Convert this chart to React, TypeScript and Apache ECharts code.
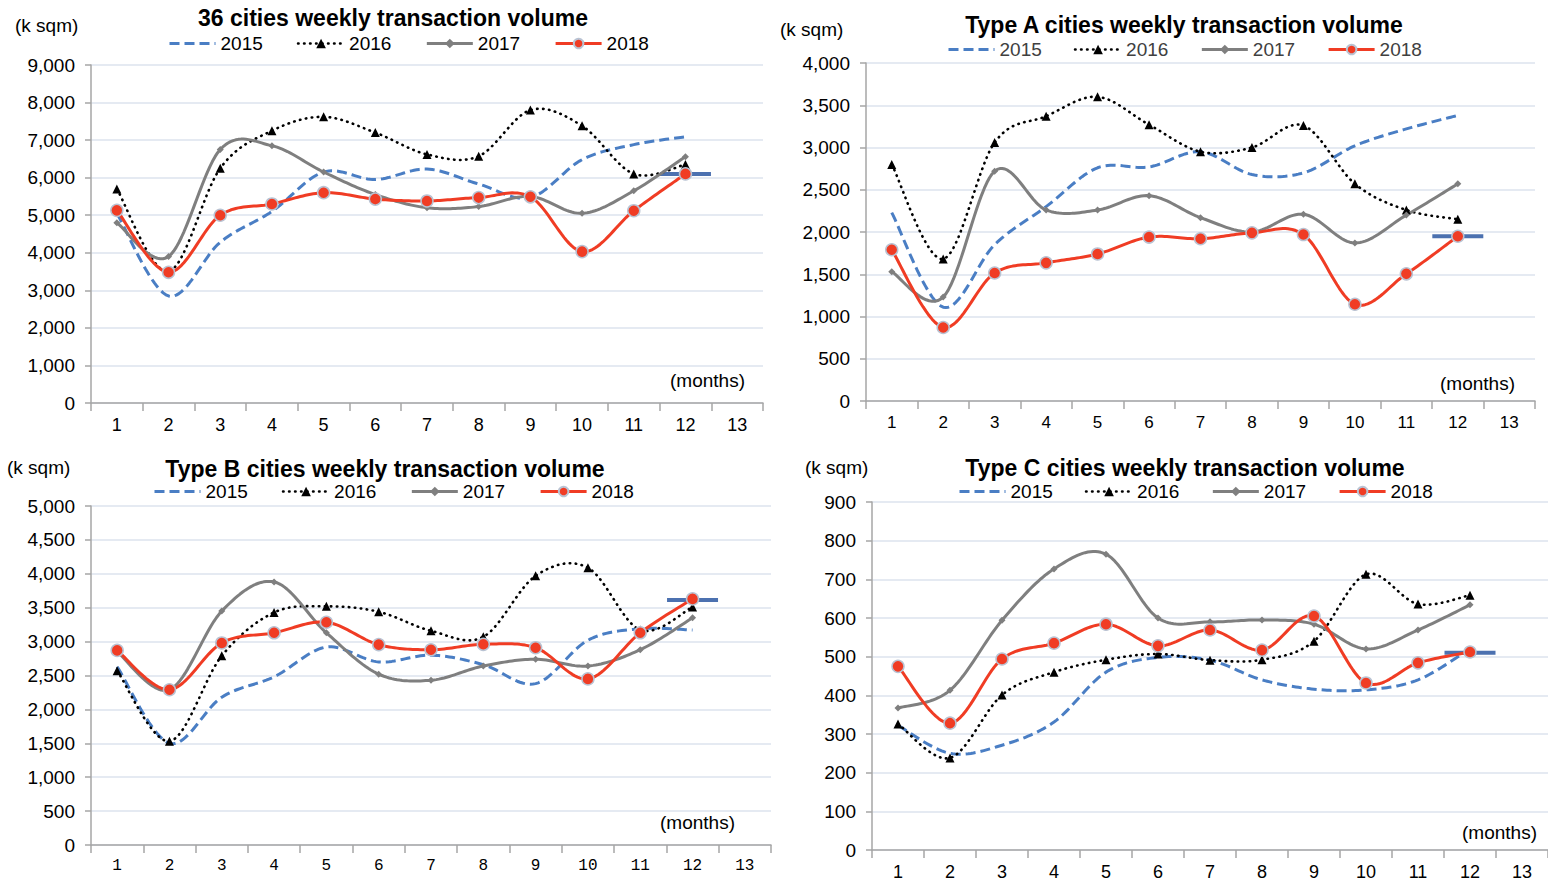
import React, { useEffect, useRef } from 'react';
import * as echarts from 'echarts';

const months = ['1', '2', '3', '4', '5', '6', '7', '8', '9', '10', '11', '12', '13'];
const years = ['2015', '2016', '2017', '2018'];

// 36 cities (k sqm)
const c36_2015 = [5050, 2850, 4280, 5100, 6150, 5950, 6230, 5830, 5470, 6480, 6880, 7090];
const c36_2016 = [5700, 3500, 6250, 7250, 7620, 7200, 6620, 6570, 7800, 7380, 6100, 6350];
const c36_2017 = [4800, 3900, 6750, 6850, 6150, 5550, 5200, 5230, 5500, 5050, 5650, 6560];
const c36_2018 = [5130, 3480, 5000, 5300, 5600, 5430, 5380, 5470, 5490, 4030, 5120, 6100];
const c36_mark = 6100;

// Type A cities
const ta_2015 = [2230, 1110, 1850, 2300, 2760, 2770, 2950, 2680, 2700, 3020, 3220, 3380];
const ta_2016 = [2800, 1680, 3060, 3370, 3600, 3270, 2950, 3000, 3260, 2570, 2260, 2150];
const ta_2017 = [1530, 1230, 2720, 2260, 2260, 2430, 2170, 2000, 2210, 1870, 2200, 2570];
const ta_2018 = [1790, 870, 1515, 1635, 1740, 1940, 1920, 1990, 1970, 1145, 1505, 1950];
const ta_mark = 1950;

// Type B cities
const tb_2015 = [2630, 1500, 2180, 2480, 2920, 2700, 2800, 2660, 2380, 3020, 3190, 3170];
const tb_2016 = [2570, 1530, 2790, 3430, 3520, 3440, 3160, 3070, 3970, 4090, 3170, 3510];
const tb_2017 = [2850, 2290, 3450, 3880, 3130, 2520, 2430, 2640, 2740, 2640, 2880, 3350];
const tb_2018 = [2870, 2290, 2980, 3130, 3285, 2955, 2880, 2960, 2910, 2450, 3130, 3630];
const tb_mark = 3615;

// Type C cities
const tc_2015 = [322, 250, 271, 331, 460, 498, 491, 440, 416, 414, 440, 520];
const tc_2016 = [326, 238, 401, 460, 492, 507, 491, 492, 540, 713, 636, 659];
const tc_2017 = [367, 413, 594, 727, 765, 600, 590, 595, 584, 520, 569, 634];
const tc_2018 = [475, 328, 494, 535, 584, 528, 569, 517, 605, 432, 484, 512];
const tc_mark = 510;

const FONT = '"Liberation Sans", Arial, sans-serif';

const panels = [
  {
    title: '36 cities weekly transaction volume',
    data: [c36_2015, c36_2016, c36_2017, c36_2018],
    mark: c36_mark,
    max: 9000, interval: 1000,
    grid: { left: 91, top: 65, width: 672, height: 338 },
    titlePos: [393, 18],
    legendPos: [168, 34], legendGap: 34, legendColor: '#000',
    unitPos: [15, 25], monthsPos: [670, 380],
    xFont: FONT, xSize: 18,
  },
  {
    title: 'Type A cities weekly transaction volume',
    data: [ta_2015, ta_2016, ta_2017, ta_2018],
    mark: ta_mark,
    max: 4000, interval: 500,
    grid: { left: 866, top: 63, width: 669, height: 338 },
    titlePos: [1184, 25],
    legendPos: [947, 40], legendGap: 32, legendColor: '#404040',
    unitPos: [780, 29], monthsPos: [1440, 383],
    xFont: FONT, xSize: 17,
  },
  {
    title: 'Type B cities weekly transaction volume',
    data: [tb_2015, tb_2016, tb_2017, tb_2018],
    mark: tb_mark,
    max: 5000, interval: 500,
    grid: { left: 91, top: 506, width: 680, height: 339 },
    titlePos: [385, 469],
    legendPos: [153, 482], legendGap: 34, legendColor: '#000',
    unitPos: [7, 467], monthsPos: [660, 822],
    xFont: '"Liberation Mono", monospace', xSize: 16,
  },
  {
    title: 'Type C cities weekly transaction volume',
    data: [tc_2015, tc_2016, tc_2017, tc_2018],
    mark: tc_mark,
    max: 900, interval: 100,
    grid: { left: 872, top: 502, width: 685, height: 348 },
    titlePos: [1185, 468],
    legendPos: [958, 482], legendGap: 32, legendColor: '#000',
    unitPos: [805, 467], monthsPos: [1462, 832],
    xFont: FONT, xSize: 18,
  },
];

const yearStyle: any = {
  '2015': { color: '#4A7EC4', width: 3, dash: [10, 5], cap: 'butt', symbol: 'none', symbolSize: 0 },
  '2016': { color: '#000000', width: 2.6, dash: [0.5, 5.5], cap: 'round', symbol: 'triangle', symbolSize: 9 },
  '2017': { color: '#7F7F7F', width: 3, dash: null, cap: 'butt', symbol: 'diamond', symbolSize: 7 },
  '2018': { color: '#F03C24', width: 3, dash: null, cap: 'butt', symbol: 'circle', symbolSize: 12 },
};

// Excel-like smoothed curve (uniform Catmull-Rom as cubic Bezier), drawn from axis coordinates
function curveRenderer(values: number[], st: any) {
  return (params: any, api: any) => {
    if (params.dataIndex !== 0) return null;
    const pts = values.map((v, idx) => api.coord([idx, v]));
    const out: number[][] = [];
    const N = 20;
    for (let k = 0; k < pts.length - 1; k++) {
      const p0 = pts[k - 1] || pts[k];
      const p1 = pts[k];
      const p2 = pts[k + 1];
      const p3 = pts[k + 2] || pts[k + 1];
      const c1 = [p1[0] + (p2[0] - p0[0]) / 6, p1[1] + (p2[1] - p0[1]) / 6];
      const c2 = [p2[0] - (p3[0] - p1[0]) / 6, p2[1] - (p3[1] - p1[1]) / 6];
      for (let s = 0; s < N; s++) {
        const t = s / N;
        const u = 1 - t;
        const a = u * u * u, b = 3 * u * u * t, c = 3 * u * t * t, d = t * t * t;
        out.push([
          a * p1[0] + b * c1[0] + c * c2[0] + d * p2[0],
          a * p1[1] + b * c1[1] + c * c2[1] + d * p2[1],
        ]);
      }
    }
    out.push(pts[pts.length - 1]);
    return {
      type: 'polyline',
      shape: { points: out },
      style: {
        stroke: st.color, lineWidth: st.width, fill: 'none',
        lineDash: st.dash || undefined, lineCap: st.cap, lineJoin: 'round',
      },
    };
  };
}

function buildOption() {
  const grid: any[] = [];
  const xAxis: any[] = [];
  const yAxis: any[] = [];
  const series: any[] = [];
  const legend: any[] = [];
  const graphic: any[] = [];

  panels.forEach((p, i) => {
    grid.push({ ...p.grid, containLabel: false });
    xAxis.push({
      type: 'category', gridIndex: i, data: months, boundaryGap: true,
      axisLine: { lineStyle: { color: '#A6A6A6', width: 1.5 } },
      axisTick: { show: true, length: 8, alignWithLabel: false, lineStyle: { color: '#A6A6A6', width: 1.5 } },
      axisLabel: { interval: 0, color: '#000', fontSize: p.xSize, fontFamily: p.xFont, margin: 13 },
      splitLine: { show: false },
    });
    yAxis.push({
      type: 'value', gridIndex: i, min: 0, max: p.max, interval: p.interval,
      axisLine: { show: true, lineStyle: { color: '#A6A6A6', width: 1.5 } },
      axisTick: { show: true, length: 6, lineStyle: { color: '#A6A6A6', width: 1.5 } },
      axisLabel: {
        color: '#000', fontSize: 19, fontFamily: FONT, margin: 16,
        formatter: (v: number) => v.toLocaleString('en-US'),
      },
      splitLine: { lineStyle: { color: '#DCE3EE', width: 1.5 } },
    });
    series.push({
      type: 'scatter', name: 'marker', xAxisIndex: i, yAxisIndex: i,
      data: [[11, p.mark]], symbol: 'rect', symbolSize: [51, 4],
      itemStyle: { color: '#1F4E9C' }, z: 1, silent: true,
    });
    years.forEach((y, k) => {
      const st = yearStyle[y];
      const vals = p.data[k];
      // markers (legend source); its own line is hidden, the curve is drawn by the custom series
      series.push({
        type: 'line', name: y, xAxisIndex: i, yAxisIndex: i,
        data: vals,
        symbol: st.symbol === 'none' ? 'circle' : st.symbol,
        symbolSize: st.symbolSize, showSymbol: st.symbol !== 'none',
        lineStyle: { color: st.color, width: st.width, opacity: 0 },
        itemStyle: y === '2018'
          ? { color: st.color, borderColor: '#B9C3D3', borderWidth: 1.5 }
          : { color: st.color },
        z: 3,
      });
      series.push({
        type: 'custom', name: y + ' curve', xAxisIndex: i, yAxisIndex: i,
        data: vals.map((v, idx) => [idx, v]),
        encode: { x: 0, y: 1 },
        renderItem: curveRenderer(vals, st),
        silent: true,
        z: 2,
      });
    });
    legend.push({
      data: years.map((y) => {
        const st = yearStyle[y];
        const item: any = {
          name: y,
          lineStyle: {
            color: st.color, width: st.width, opacity: 1,
            type: st.dash ? st.dash : 'solid', cap: st.cap,
          },
        };
        if (y === '2015') item.itemStyle = { opacity: 0 };
        return item;
      }),
      left: p.legendPos[0], top: p.legendPos[1], padding: 0,
      itemWidth: 46, itemHeight: 12, itemGap: p.legendGap,
      textStyle: { fontSize: 19, fontFamily: FONT, color: p.legendColor },
    });
    graphic.push({
      type: 'text', x: p.titlePos[0], y: p.titlePos[1],
      style: { text: p.title, fill: '#000', font: `bold 23px ${FONT}`, textAlign: 'center', textVerticalAlign: 'middle' },
    });
    graphic.push({
      type: 'text', x: p.unitPos[0], y: p.unitPos[1],
      style: { text: '(k sqm)', fill: '#000', font: `19px ${FONT}`, textAlign: 'left', textVerticalAlign: 'middle' },
    });
    graphic.push({
      type: 'text', x: p.monthsPos[0], y: p.monthsPos[1],
      style: { text: '(months)', fill: '#000', font: `19px ${FONT}`, textAlign: 'left', textVerticalAlign: 'middle' },
    });
  });

  return {
    animation: false,
    backgroundColor: '#ffffff',
    textStyle: { fontFamily: FONT },
    grid, xAxis, yAxis, series, legend, graphic,
  };
}

export default function App() {
  const ref = useRef<HTMLDivElement>(null);
  useEffect(() => {
    if (!ref.current) return;
    const chart = echarts.init(ref.current, undefined, { renderer: 'svg' });
    chart.setOption(buildOption() as any);
    return () => chart.dispose();
  }, []);
  return (
    <div
      ref={ref}
      style={{ position: 'absolute', left: 0, top: 0, width: 1548, height: 883, background: '#fff' }}
    />
  );
}
